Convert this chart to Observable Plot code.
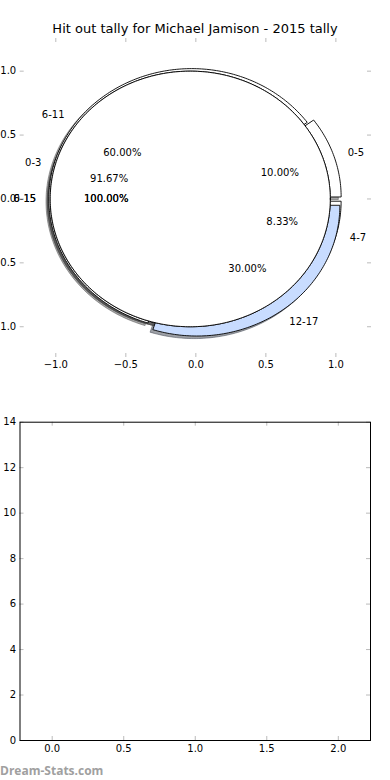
<!DOCTYPE html>
<html><head><meta charset="utf-8">
<script src="https://cdn.jsdelivr.net/npm/d3@7"></script>
<script src="https://cdn.jsdelivr.net/npm/@observablehq/plot@0.6"></script>
<style>
body{margin:0;background:#fff;font-family:"DejaVu Sans",sans-serif;}
#wrap{position:relative;width:390px;height:780px;overflow:hidden;background:#fff}
#top{position:absolute;left:0;top:0}
#bottom{position:absolute;left:0;top:395px}
#title{position:absolute;top:21px;left:0;width:390px;text-align:center;font-size:13px;color:#000;font-family:"DejaVu Sans",sans-serif}
#wm{position:absolute;left:0;top:762px;font-size:12px;font-weight:700;color:#a0a0a0;font-family:"Open Sans",sans-serif}
</style></head><body>
<div id="wrap"><div id="top"></div><div id="bottom"></div>
<div id="title">Hit out tally for Michael Jamison - 2015 tally</div>
<div id="wm">Dream-Stats.com</div></div>
<script>
// ---- data ----
const pie1Labels = ["0-5", "6-11", "12-17"];
const pie1Values = [1, 6, 3];
const pie2Labels = ["0-3", "4-7"];
const pie2Values = [11, 1];
const pie3Labels = ["0-15"];
const pie3Values = [1];
const pie4Labels = ["6-15"];
const pie4Values = [1];
const pieXTicks = [-1, -0.5, 0, 0.5, 1];
const pieYTicks = [-1, -0.5, 0, 0.5, 1];
const barXTicks = [0, 0.5, 1, 1.5, 2];
const barYTicks = [0, 2, 4, 6, 8, 10, 12, 14];

// ---- drawing config (draw order) ----
const pies = [
  {labels: pie2Labels, values: pie2Values, center: [-0.04, 0], radius: 1.0, explode: [0, 0.08], colors: ["#ffffff", "#ffffff"]},
  {labels: pie1Labels, values: pie1Values, center: [-0.03, 0], radius: 1.02, explode: [0.05, 0, 0.065], colors: ["#ffffff", "#ffffff", "#c8dcff"]},
  {labels: pie3Labels, values: pie3Values, center: [-0.04, 0], radius: 1.0, explode: [0], colors: ["#ffffff"]},
  {labels: pie4Labels, values: pie4Values, center: [-0.04, 0], radius: 1.0, explode: [0], colors: ["#ffffff"]}
];
const SH = -0.02;

function buildWedges(pie) {
  const total = d3.sum(pie.values);
  let acc = 0;
  return pie.values.map((v, i) => {
    const t1 = acc / total * 360; acc += v; const t2 = acc / total * 360;
    const mid = (t1 + t2) / 2 * Math.PI / 180;
    const ex = pie.explode[i] || 0;
    const cx = pie.center[0] + ex * Math.cos(mid), cy = pie.center[1] + ex * Math.sin(mid);
    const full = Math.abs(t2 - t1 - 360) < 1e-9;
    const n = Math.max(2, Math.ceil(t2 - t1));
    const pts = [];
    if (!full) pts.push({x: cx, y: cy});
    for (let k = 0; k <= n; k++) {
      const a = (t1 + (t2 - t1) * k / n) * Math.PI / 180;
      pts.push({x: cx + pie.radius * Math.cos(a), y: cy + pie.radius * Math.sin(a)});
    }
    const lx = cx + 1.1 * pie.radius * Math.cos(mid), ly = cy + 1.1 * pie.radius * Math.sin(mid);
    const px = cx + 0.6 * pie.radius * Math.cos(mid), py = cy + 0.6 * pie.radius * Math.sin(mid);
    const pct = (v / total * 100).toFixed(2) + "%";
    return {pts, color: pie.colors[i], label: pie.labels[i], lx, ly, px, py, pct};
  });
}
const allW = pies.map(buildWedges);

function shade(c) {
  const r = d3.rgb(c);
  return d3.rgb(r.r * 0.3, r.g * 0.3, r.b * 0.3).formatHex();
}

const marks = [];
allW.flat().forEach(w => {
  marks.push(Plot.line(w.pts, {x: d => d.x + SH, y: d => d.y + SH, curve: "linear-closed",
    fill: shade(w.color), fillOpacity: 0.5, stroke: shade(w.color), strokeOpacity: 0.5, strokeWidth: 1}));
});
allW.flat().forEach(w => {
  marks.push(Plot.line(w.pts, {x: "x", y: "y", curve: "linear-closed", fill: w.color, stroke: "#000", strokeWidth: 0.9}));
});
allW.flat().forEach(w => {
  marks.push(Plot.text([w], {x: "lx", y: "ly", text: "label", textAnchor: w.lx > 0 ? "start" : "end", fontSize: 10, fill: "#000"}));
  marks.push(Plot.text([w], {x: "px", y: "py", text: "pct", textAnchor: "middle", fontSize: 10, fill: "#000"}));
});

const TW = 390, TH = 395, TML = 21.7, TMR = 21, TMT = 40, TMB = 40;
const tpw = TW - TML - TMR, tph = TH - TMT - TMB;
const tickC = "#bbbbbb";
marks.push(
  Plot.tickX(pieXTicks, {x: d => d, insetTop: -2, insetBottom: tph - 2, stroke: tickC}),
  Plot.tickX(pieXTicks, {x: d => d, insetTop: tph - 2, insetBottom: -2, stroke: tickC}),
  Plot.tickY(pieYTicks, {y: d => d, insetLeft: -2, insetRight: tpw - 2, stroke: tickC}),
  Plot.tickY(pieYTicks, {y: d => d, insetLeft: tpw - 2, insetRight: -2, stroke: tickC}),
  Plot.axisX(pieXTicks, {anchor: "bottom", tickSize: 0, tickPadding: 5, tickFormat: d3.format(".1f"), fontSize: 10}),
  Plot.axisY(pieYTicks, {anchor: "left", tickSize: 0, tickPadding: 6, tickFormat: d3.format(".1f"), fontSize: 10})
);

const topChart = Plot.plot({
  width: TW, height: TH, marginLeft: TML, marginRight: TMR, marginTop: TMT, marginBottom: TMB,
  style: {fontFamily: "DejaVu Sans", fontSize: "10px", background: "transparent", color: "#000"},
  x: {domain: [-1.24, 1.24]},
  y: {domain: [-1.225, 1.24]},
  marks
});
document.getElementById("top").append(topChart);

const BW = 390, BH = 365, BML = 19.5, BMR = 20, BMT = 26.7, BMB = 20;
const bpw = BW - BML - BMR, bph = BH - BMT - BMB;
const bottomChart = Plot.plot({
  width: BW, height: BH, marginLeft: BML, marginRight: BMR, marginTop: BMT, marginBottom: BMB,
  style: {fontFamily: "DejaVu Sans", fontSize: "10px", background: "transparent", color: "#000"},
  x: {domain: [-0.225, 2.225]},
  y: {domain: [0, 14]},
  marks: [
    Plot.tickX(barXTicks, {x: d => d, insetTop: 0, insetBottom: bph - 4, stroke: tickC}),
    Plot.tickX(barXTicks, {x: d => d, insetTop: bph - 4, insetBottom: 0, stroke: tickC}),
    Plot.tickY(barYTicks, {y: d => d, insetLeft: 0, insetRight: bpw - 4, stroke: tickC}),
    Plot.tickY(barYTicks, {y: d => d, insetLeft: bpw - 4, insetRight: 0, stroke: tickC}),
    Plot.frame({stroke: "#000", strokeWidth: 1}),
    Plot.axisX(barXTicks, {anchor: "bottom", tickSize: 0, tickPadding: 4, tickFormat: d3.format(".1f"), fontSize: 10}),
    Plot.axisY(barYTicks, {anchor: "left", tickSize: 0, tickPadding: 4, tickFormat: d3.format("d"), fontSize: 10})
  ]
});
document.getElementById("bottom").append(bottomChart);
</script>
</body></html>
